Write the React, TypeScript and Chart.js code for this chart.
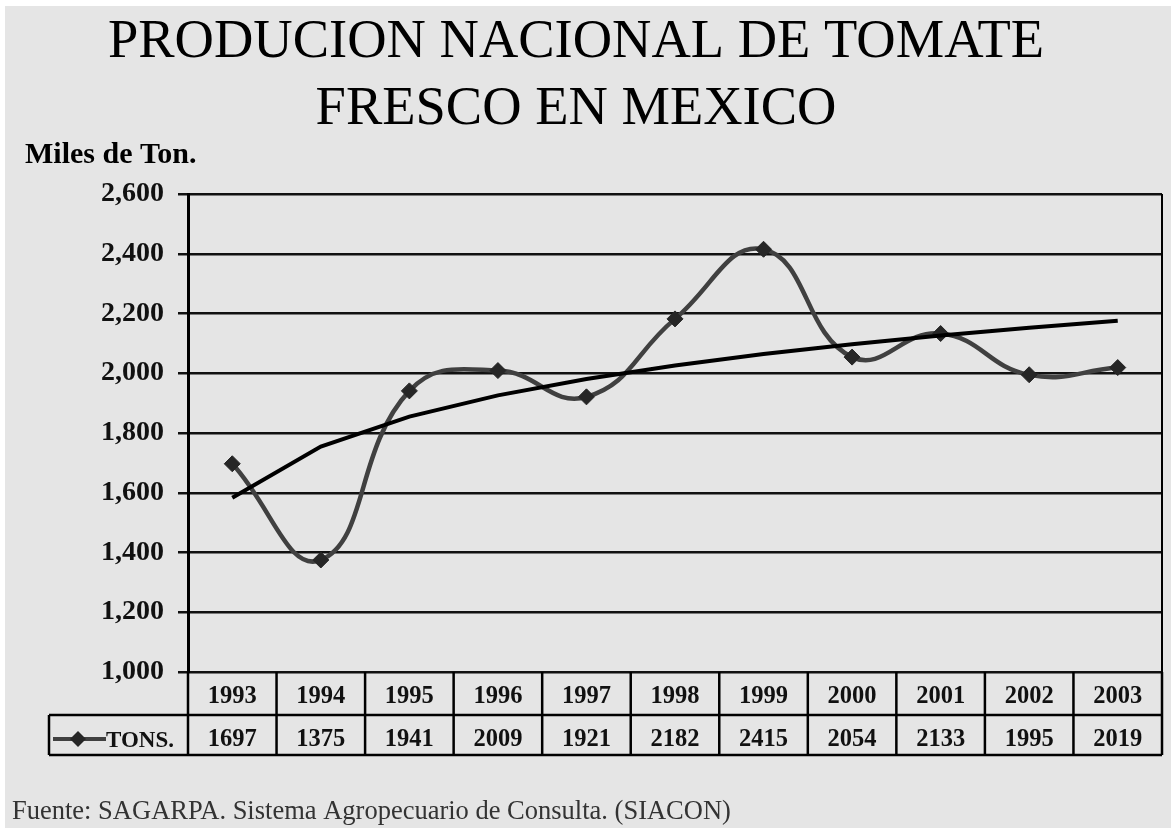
import React, { useEffect, useRef } from "react";
import { Chart, registerables } from "chart.js";

Chart.register(...registerables);

const TITLE_LINES = ["PRODUCION NACIONAL DE TOMATE", "FRESCO EN MEXICO"];
const Y_LABEL = "Miles de Ton.";
const SOURCE = "Fuente: SAGARPA. Sistema Agropecuario de Consulta. (SIACON)";
const SERIES_NAME = "TONS.";
const YEARS = ["1993", "1994", "1995", "1996", "1997", "1998", "1999", "2000", "2001", "2002", "2003"];
const TONS = [1697, 1375, 1941, 2009, 1921, 2182, 2415, 2054, 2133, 1995, 2019];
const Y_MIN = 1000;
const Y_MAX = 2600;
const Y_STEP = 200;

const FONT = "'Liberation Serif', 'Times New Roman', serif";
const BG = "#e5e5e5";
const LINE_COLOR = "#404040";
const MARK_COLOR = "#262626";

// Logarithmic trend line (least squares on ln(x)), as in the spreadsheet's trendline
function logTrend(values: number[]): number[] {
  const n = values.length;
  const xs = values.map((_, i) => Math.log(i + 1));
  const mx = xs.reduce((a, b) => a + b, 0) / n;
  const my = values.reduce((a, b) => a + b, 0) / n;
  let sxy = 0;
  let sxx = 0;
  for (let i = 0; i < n; i++) {
    sxy += (xs[i] - mx) * (values[i] - my);
    sxx += (xs[i] - mx) * (xs[i] - mx);
  }
  const b = sxy / sxx;
  const a = my - b * mx;
  return xs.map((x) => a + b * x);
}

const decorPlugin = {
  id: "decor",
  beforeDraw(chart: any) {
    const ctx = chart.ctx as CanvasRenderingContext2D;
    ctx.save();
    ctx.fillStyle = "#ffffff";
    ctx.fillRect(0, 0, chart.width, chart.height);
    ctx.fillStyle = BG;
    ctx.fillRect(5, 6, chart.width - 5, chart.height - 6);
    ctx.restore();
  },
  afterDraw(chart: any) {
    const ctx = chart.ctx as CanvasRenderingContext2D;
    const area = chart.chartArea;
    const xs = chart.scales.x;
    const n = YEARS.length;
    const w = (area.right - area.left) / n;
    ctx.save();

    // title
    ctx.fillStyle = "#000";
    ctx.textAlign = "center";
    ctx.textBaseline = "alphabetic";
    ctx.font = `54.5px ${FONT}`;
    ctx.fillText(TITLE_LINES[0], 576, 57);
    ctx.fillText(TITLE_LINES[1], 576, 124);

    // y axis caption
    ctx.textAlign = "left";
    ctx.font = `bold 30px ${FONT}`;
    ctx.fillText(Y_LABEL, 25, 163);

    // right border of plot
    ctx.strokeStyle = "#000";
    ctx.lineWidth = 2;
    ctx.beginPath();
    ctx.moveTo(area.right, area.top);
    ctx.lineTo(area.right, area.bottom);
    ctx.stroke();

    // data table
    const r0 = area.bottom;
    const r1 = 715;
    const r2 = 755;
    const tableLeft = 49;
    ctx.lineWidth = 2.5;
    ctx.beginPath();
    ctx.moveTo(tableLeft, r1);
    ctx.lineTo(area.right, r1);
    ctx.moveTo(tableLeft, r2);
    ctx.lineTo(area.right, r2);
    ctx.moveTo(tableLeft, r1);
    ctx.lineTo(tableLeft, r2);
    for (let i = 0; i <= n; i++) {
      const xb = area.left + i * w;
      ctx.moveTo(xb, r0);
      ctx.lineTo(xb, r2);
    }
    ctx.stroke();

    ctx.font = `bold 24.5px ${FONT}`;
    ctx.textAlign = "center";
    ctx.fillStyle = "#111";
    for (let i = 0; i < n; i++) {
      const cx = xs.getPixelForValue(i);
      ctx.fillText(YEARS[i], cx, 703);
      ctx.fillText(String(TONS[i]), cx, 746);
    }

    // legend key
    const ly = 739;
    ctx.strokeStyle = LINE_COLOR;
    ctx.lineWidth = 4;
    ctx.beginPath();
    ctx.moveTo(53, ly);
    ctx.lineTo(106, ly);
    ctx.stroke();
    ctx.fillStyle = MARK_COLOR;
    ctx.beginPath();
    ctx.moveTo(78, ly - 8);
    ctx.lineTo(86, ly);
    ctx.lineTo(78, ly + 8);
    ctx.lineTo(70, ly);
    ctx.closePath();
    ctx.fill();
    ctx.fillStyle = "#111";
    ctx.textAlign = "left";
    ctx.font = `bold 23px ${FONT}`;
    ctx.fillText(SERIES_NAME, 106, 747);

    // footer
    ctx.fillStyle = "#333";
    ctx.font = `26.5px ${FONT}`;
    ctx.fillText(SOURCE, 12, 819);

    ctx.restore();
  },
};

export default function App() {
  const ref = useRef<HTMLCanvasElement | null>(null);

  useEffect(() => {
    if (!ref.current) return;
    const trend = logTrend(TONS);
    const chart = new Chart(ref.current, {
      type: "line",
      data: {
        labels: YEARS,
        datasets: [
          {
            label: "Tendencia",
            data: trend,
            borderColor: "#000",
            borderWidth: 4,
            pointRadius: 0,
            tension: 0,
            order: 0,
          },
          {
            label: SERIES_NAME,
            data: TONS,
            borderColor: LINE_COLOR,
            borderWidth: 4.5,
            tension: 0.45,
            pointStyle: "rectRot",
            pointRadius: 8,
            pointBackgroundColor: MARK_COLOR,
            pointBorderColor: MARK_COLOR,
            pointBorderWidth: 1,
            order: 1,
          },
        ],
      },
      options: {
        responsive: false,
        animation: false,
        events: [],
        layout: { padding: { top: 194, bottom: 156, left: 0, right: 5 } },
        plugins: {
          legend: { display: false },
          title: { display: false },
          tooltip: { enabled: false },
        },
        scales: {
          x: {
            type: "category",
            display: false,
            offset: true,
          },
          y: {
            min: Y_MIN,
            max: Y_MAX,
            afterFit(scale: any) {
              scale.width = 188;
            },
            ticks: {
              stepSize: Y_STEP,
              padding: 14,
              color: "#111",
              font: { family: FONT, size: 28, weight: "bold" },
              callback: (v: any) => Number(v).toLocaleString("en-US"),
            },
            grid: {
              color: "#111",
              lineWidth: 2.5,
              tickLength: 10,
              drawTicks: true,
            },
            border: { color: "#000", width: 3 },
          },
        },
      },
      plugins: [decorPlugin],
    });
    return () => chart.destroy();
  }, []);

  return (
    <div style={{ position: "fixed", left: 0, top: 0, width: 1171, height: 828 }}>
      <canvas ref={ref} width={1171} height={828} style={{ display: "block" }} />
    </div>
  );
}
